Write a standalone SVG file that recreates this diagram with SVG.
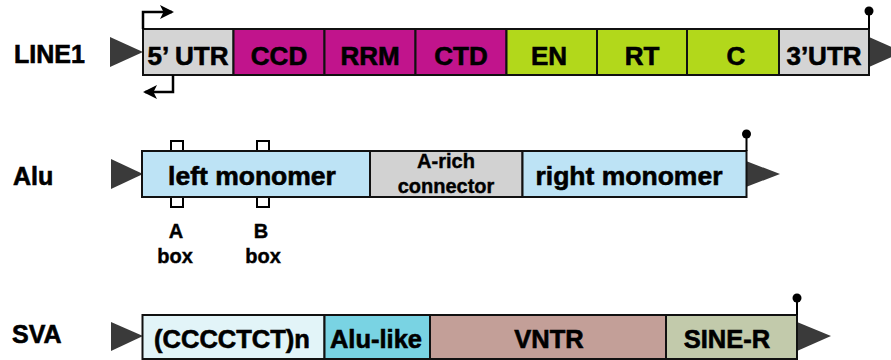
<svg xmlns="http://www.w3.org/2000/svg" width="891" height="360" viewBox="0 0 891 360">
  <style>
    text { font-family: "Liberation Sans", Arial, sans-serif; font-weight: bold; fill: #000; stroke: #000; stroke-width: 0.6; }
    .name { font-size: 25px; }
    .seg { stroke: #111; stroke-width: 2; }
    .lbl { font-size: 26px; text-anchor: middle; }
    .lbl26 { font-size: 26.5px; text-anchor: middle; }
    .lblsva { font-size: 25.5px; text-anchor: middle; }
    .small { font-size: 20px; text-anchor: middle; stroke-width: 0.4; }
    .tri { fill: #3a3a3a; }
    .term { stroke: #000; stroke-width: 2; fill: none; }
    .dot { fill: #000; }
    .boxmark { fill: #fff; stroke: #000; stroke-width: 2; }
    .prom { stroke: #000; stroke-width: 2.5; fill: none; }
    .utr { fill: #d4d4d4; }
    .orf1 { fill: #c1148c; }
    .orf2 { fill: #b2d81b; }
    .mono { fill: #bde3f5; }
    .arich { fill: #d2d2d2; }
    .hex { fill: #e2f4f8; }
    .alulike { fill: #79d3e3; }
    .vntr { fill: #c39f98; }
    .siner { fill: #c2caab; }
  </style>
  <defs>
    <marker id="head" viewBox="0 0 14 14" refX="12" refY="7" markerWidth="14" markerHeight="14" markerUnits="userSpaceOnUse" orient="auto">
      <path d="M0,0 L14,7 L0,14 L3.5,7 Z" fill="#000"/>
    </marker>
  </defs>

  <!-- LINE1 -->
  <g id="line1">
    <text class="name" x="14" y="63">LINE1</text>
    <polygon class="tri" points="110,37 143,52 110,67"/>
    <polygon class="tri" points="869,37 903,52 869,67"/>
    <rect class="seg utr" x="143" y="29" width="90.5" height="46"/>
    <rect class="seg orf1" x="233.5" y="29" width="91" height="46"/>
    <rect class="seg orf1" x="324.5" y="29" width="91" height="46"/>
    <rect class="seg orf1" x="415.5" y="29" width="91" height="46"/>
    <rect class="seg orf2" x="506.5" y="29" width="90.5" height="46"/>
    <rect class="seg orf2" x="597" y="29" width="90" height="46"/>
    <rect class="seg orf2" x="687" y="29" width="92" height="46"/>
    <rect class="seg utr" x="779" y="29" width="90" height="46"/>
    <text class="lbl" x="188" y="65">5’ UTR</text>
    <text class="lbl" x="279" y="65">CCD</text>
    <text class="lbl" x="370" y="65">RRM</text>
    <text class="lbl" x="461" y="65">CTD</text>
    <text class="lbl" x="549" y="65">EN</text>
    <text class="lbl" x="642" y="65">RT</text>
    <text class="lbl" x="736" y="65">C</text>
    <text class="lbl" x="824" y="65">3’UTR</text>
    <line class="term" x1="869" y1="29" x2="869" y2="12"/>
    <circle class="dot" cx="869" cy="11" r="4.5"/>
  </g>

  <!-- Alu -->
  <g id="alu">
    <text class="name" x="13" y="185">Alu</text>
    <polygon class="tri" points="111,159 143,174 111,189"/>
    <polygon class="tri" points="746,161 780,174 746,187"/>
    <rect class="boxmark" x="171" y="141" width="12" height="10"/>
    <rect class="boxmark" x="257" y="141" width="12" height="10"/>
    <rect class="boxmark" x="171" y="197" width="12" height="10"/>
    <rect class="boxmark" x="257" y="197" width="12" height="10"/>
    <rect class="seg mono" x="142" y="151" width="228" height="46"/>
    <rect class="seg arich" x="370" y="151" width="152.5" height="46"/>
    <rect class="seg mono" x="522.5" y="151" width="224" height="46"/>
    <text class="lbl26" x="252" y="185">left monomer</text>
    <text class="small" x="446" y="168">A-rich</text>
    <text class="small" x="446" y="193">connector</text>
    <text class="lbl26" x="629" y="185">right monomer</text>
    <line class="term" x1="746.5" y1="151" x2="746.5" y2="135"/>
    <circle class="dot" cx="746.5" cy="134" r="4.5"/>
    <text class="small" x="176" y="238">A</text>
    <text class="small" x="175" y="263">box</text>
    <text class="small" x="261" y="238">B</text>
    <text class="small" x="263" y="263">box</text>
  </g>

  <!-- SVA -->
  <g id="sva">
    <text class="name" x="12" y="343">SVA</text>
    <polygon class="tri" points="111,322 143,336 111,351"/>
    <polygon class="tri" points="797,322 831,336 797,351"/>
    <rect class="seg hex" x="142.5" y="315" width="182" height="44"/>
    <rect class="seg alulike" x="324.5" y="315" width="105.5" height="44"/>
    <rect class="seg vntr" x="430" y="315" width="236" height="44"/>
    <rect class="seg siner" x="666" y="315" width="131" height="44"/>
    <text class="lblsva" x="232" y="348">(CCCCTCT)n</text>
    <text class="lblsva" x="376" y="348">Alu-like</text>
    <text class="lblsva" x="549" y="348">VNTR</text>
    <text class="lblsva" x="727" y="348">SINE-R</text>
    <line class="term" x1="797" y1="315" x2="797" y2="299"/>
    <circle class="dot" cx="797" cy="298" r="4.5"/>
  </g>

  <!-- promoter arrows -->
  <g id="connectors">
    <path class="prom" d="M143,29 V12 H172" marker-end="url(#head)"/>
    <path class="prom" d="M173,75 V92 H145" marker-end="url(#head)"/>
  </g>
</svg>
